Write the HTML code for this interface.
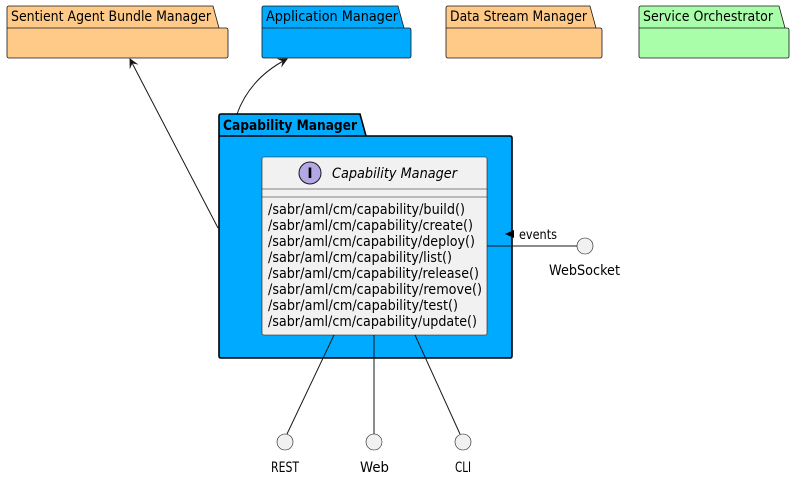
<!DOCTYPE html>
<html><head><meta charset="utf-8"><style>
html,body{margin:0;padding:0;background:#fff}
svg{display:block}
text{font-family:"DejaVu Sans","Liberation Sans",sans-serif;fill:#000}
</style></head><body>
<svg width="795" height="480" viewBox="0 0 795 480" xmlns="http://www.w3.org/2000/svg">
<defs>
<marker id="ah" viewBox="0 0 10 10" refX="9" refY="5" markerWidth="10" markerHeight="10" orient="auto" markerUnits="userSpaceOnUse">
<path d="M0,0 L10,5 L0,10 L4,5 Z" fill="#181818"/>
</marker>
</defs>
<g stroke="#181818" stroke-width="0.8">
<path d="M9,6 H213 L219,28 H226 Q228,28 228,30 V56 Q228,58 226,58 H9 Q7,58 7,56 V8 Q7,6 9,6 Z" fill="#FFC987"/>
<line x1="7" y1="28" x2="219" y2="28"/>
<path d="M264,6 H398 L404,28 H409 Q411,28 411,30 V56 Q411,58 409,58 H264 Q262,58 262,56 V8 Q262,6 264,6 Z" fill="#00AAFF"/>
<line x1="262" y1="28" x2="404" y2="28"/>
<path d="M448,6 H590 L596,28 H600 Q602,28 602,30 V56 Q602,58 600,58 H448 Q446,58 446,56 V8 Q446,6 448,6 Z" fill="#FFC987"/>
<line x1="446" y1="28" x2="596" y2="28"/>
<path d="M641,6 H779 L785,28 H787 Q789,28 789,30 V56 Q789,58 787,58 H641 Q639,58 639,56 V8 Q639,6 641,6 Z" fill="#A9FFA9"/>
<line x1="639" y1="28" x2="785" y2="28"/>
</g>
<g font-size="14" lengthAdjust="spacingAndGlyphs">
<text x="11" y="21" textLength="200" lengthAdjust="spacingAndGlyphs">Sentient Agent Bundle Manager</text>
<text x="266" y="21" textLength="132" lengthAdjust="spacingAndGlyphs">Application Manager</text>
<text x="450" y="21" textLength="137" lengthAdjust="spacingAndGlyphs">Data Stream Manager</text>
<text x="643" y="21" textLength="130" lengthAdjust="spacingAndGlyphs">Service Orchestrator</text>
</g>
<g stroke="#181818" stroke-width="1" fill="none">
<line x1="218" y1="228" x2="130" y2="59" marker-end="url(#ah)"/>
<path d="M237,114 Q250,78 287,59" marker-end="url(#ah)"/>
</g>
<g stroke="#000" stroke-width="1.6">
<path d="M221,114 H360 L366,136 H510 Q512,136 512,138 V356 Q512,358 510,358 H221 Q219,358 219,356 V116 Q219,114 221,114 Z" fill="#00AAFF"/>
<line x1="219" y1="136" x2="366" y2="136"/>
</g>
<text x="223" y="130" font-size="14" font-weight="bold" textLength="134" lengthAdjust="spacingAndGlyphs">Capability Manager</text>
<rect x="262" y="157" width="225" height="178" rx="2" fill="#F1F1F1" stroke="#181818" stroke-width="0.6"/>
<line x1="262" y1="189" x2="487" y2="189" stroke="#181818" stroke-width="0.6"/>
<line x1="262" y1="197" x2="487" y2="197" stroke="#181818" stroke-width="0.6"/>
<circle cx="310" cy="173" r="11" fill="#B4A7E5" stroke="#181818" stroke-width="1"/>
<text x="310" y="178" font-size="14" font-weight="bold" text-anchor="middle" font-family="Liberation Serif,serif">I</text>
<text x="332" y="178" font-size="14" font-style="italic" textLength="125" lengthAdjust="spacingAndGlyphs">Capability Manager</text>
<g font-size="14">
<text x="268" y="214" textLength="197" lengthAdjust="spacingAndGlyphs">/sabr/aml/cm/capability/build()</text>
<text x="268" y="230" textLength="205" lengthAdjust="spacingAndGlyphs">/sabr/aml/cm/capability/create()</text>
<text x="268" y="246" textLength="207" lengthAdjust="spacingAndGlyphs">/sabr/aml/cm/capability/deploy()</text>
<text x="268" y="262" textLength="184" lengthAdjust="spacingAndGlyphs">/sabr/aml/cm/capability/list()</text>
<text x="268" y="278" textLength="211" lengthAdjust="spacingAndGlyphs">/sabr/aml/cm/capability/release()</text>
<text x="268" y="294" textLength="214" lengthAdjust="spacingAndGlyphs">/sabr/aml/cm/capability/remove()</text>
<text x="268" y="310" textLength="190" lengthAdjust="spacingAndGlyphs">/sabr/aml/cm/capability/test()</text>
<text x="268" y="326" textLength="209" lengthAdjust="spacingAndGlyphs">/sabr/aml/cm/capability/update()</text>
</g>
<line x1="487" y1="246" x2="577" y2="246" stroke="#181818" stroke-width="1"/>
<path d="M505,234 L514,230 L514,238 Z" fill="#000"/>
<text x="519" y="239" font-size="13" textLength="38" lengthAdjust="spacingAndGlyphs">events</text>
<circle cx="585" cy="246" r="8" fill="#F1F1F1" stroke="#181818" stroke-width="0.6"/>
<text x="549" y="275" font-size="14" textLength="71" lengthAdjust="spacingAndGlyphs">WebSocket</text>
<g stroke="#181818" stroke-width="1">
<line x1="334" y1="335" x2="287" y2="434"/>
<line x1="374" y1="335" x2="374" y2="434"/>
<line x1="415" y1="335" x2="460" y2="434"/>
</g>
<g fill="#F1F1F1" stroke="#181818" stroke-width="0.6">
<circle cx="285" cy="442" r="8"/>
<circle cx="374" cy="442" r="8"/>
<circle cx="463" cy="442" r="8"/>
</g>
<text x="271" y="472" font-size="14" textLength="28" lengthAdjust="spacingAndGlyphs">REST</text>
<text x="360" y="472" font-size="14" textLength="29" lengthAdjust="spacingAndGlyphs">Web</text>
<text x="455" y="472" font-size="14" textLength="16" lengthAdjust="spacingAndGlyphs">CLI</text>
</svg>
</body></html>
